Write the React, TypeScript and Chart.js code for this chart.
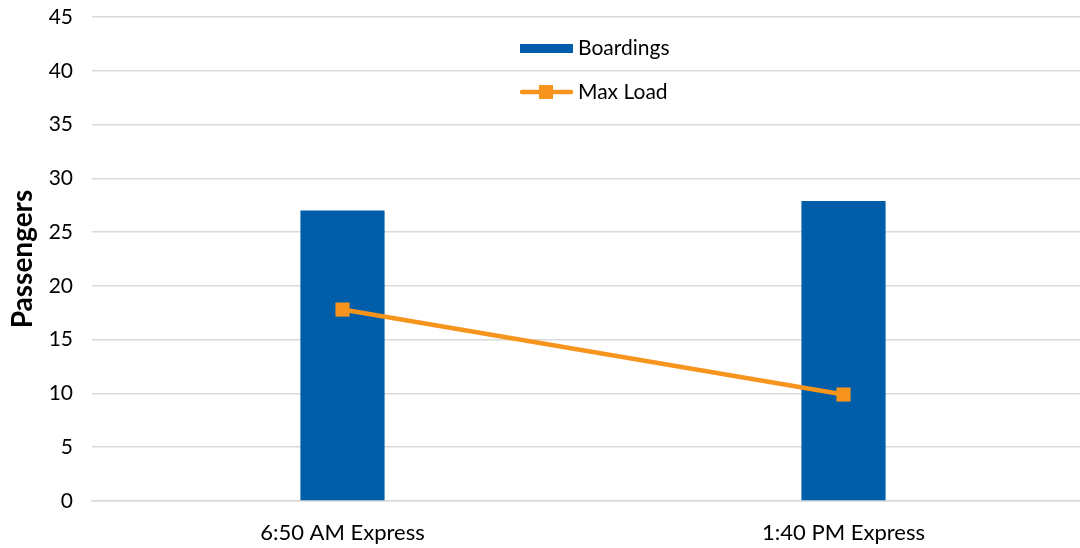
import React, { useEffect, useRef } from "react";
import { Chart, registerables } from "chart.js";

Chart.register(...registerables);

const categories = ["6:50 AM Express", "1:40 PM Express"];
const boardings = [27, 27.9];
const maxLoad = [17.8, 9.9];
const yTicks = { min: 0, max: 45, step: 5 };

const BLUE = "#005DAA";
const ORANGE = "#F7941D";
const FONT = "Lato, 'Open Sans', sans-serif";

const legendPlugin = {
  id: "customLegend",
  afterDraw(chart: any) {
    const ctx = chart.ctx;
    const ds = chart.data.datasets;
    ctx.save();
    ctx.font = `21px ${FONT}`;
    ctx.fillStyle = "#000";
    ctx.textBaseline = "middle";
    ctx.textAlign = "left";
    const x0 = 520;
    const bar = ds.find((d: any) => d.type === "bar");
    const line = ds.find((d: any) => d.type === "line");
    ctx.fillStyle = bar.backgroundColor;
    ctx.fillRect(x0, 44, 53, 9);
    ctx.fillStyle = "#000";
    ctx.fillText(bar.label, x0 + 58, 48);
    ctx.strokeStyle = line.borderColor;
    ctx.lineWidth = 4.5;
    ctx.lineCap = "round";
    ctx.beginPath();
    ctx.moveTo(x0 + 2, 92);
    ctx.lineTo(x0 + 51, 92);
    ctx.stroke();
    ctx.fillStyle = line.borderColor;
    ctx.fillRect(x0 + 19, 85, 14, 14);
    ctx.fillStyle = "#000";
    ctx.fillText(line.label, x0 + 58, 92);
    ctx.restore();
  },
};

export default function App() {
  const ref = useRef<HTMLCanvasElement>(null);
  useEffect(() => {
    if (!ref.current) return;
    const chart = new Chart(ref.current, {
      data: {
        labels: categories,
        datasets: [
          {
            type: "line",
            label: "Max Load",
            data: maxLoad,
            borderColor: ORANGE,
            backgroundColor: ORANGE,
            borderWidth: 4.5,
            pointStyle: "rect",
            pointRadius: 10,
            pointBorderWidth: 0,
            pointBackgroundColor: ORANGE,
            order: 0,
          },
          {
            type: "bar",
            label: "Boardings",
            data: boardings,
            backgroundColor: BLUE,
            barPercentage: 1,
            categoryPercentage: 0.168,
            order: 1,
          },
        ],
      } as any,
      options: {
        responsive: true,
        maintainAspectRatio: false,
        animation: false,
        layout: { padding: { top: 17, right: 0, bottom: 2.8, left: 0 } },
        plugins: {
          legend: { display: false },
          tooltip: { enabled: false },
        },
        scales: {
          x: {
            afterFit(scale: any) {
              scale.height = 44.2;
            },
            grid: { display: false, drawTicks: false },
            border: { display: true, color: "#d9d9d9", width: 1.5 },
            ticks: {
              color: "#000",
              font: { family: FONT, size: 22 },
              padding: 19,
            },
          },
          y: {
            min: yTicks.min,
            max: yTicks.max,
            afterFit(scale: any) {
              scale.width = 92;
            },
            grid: {
              color: "#d9d9d9",
              lineWidth: 1.5,
              drawTicks: true,
              tickLength: 19,
              tickColor: "rgba(0,0,0,0)",
            },
            border: { display: false },
            ticks: {
              stepSize: yTicks.step,
              color: "#000",
              font: { family: FONT, size: 21 },
              padding: 0,
            },
            title: {
              display: true,
              text: "Passengers",
              color: "#000",
              font: { family: FONT, size: 28, weight: "bold" },
              padding: { top: 6, bottom: 0 },
            },
          },
        },
      },
      plugins: [legendPlugin],
    });
    return () => chart.destroy();
  }, []);
  return (
    <div
      style={{
        position: "fixed",
        left: 0,
        top: 0,
        width: 1080,
        height: 548,
        overflow: "hidden",
        background: "#fff",
      }}
    >
      <div style={{ position: "absolute", left: 0, top: 0, width: 1104, height: 548 }}>
        <canvas ref={ref} />
      </div>
    </div>
  );
}
